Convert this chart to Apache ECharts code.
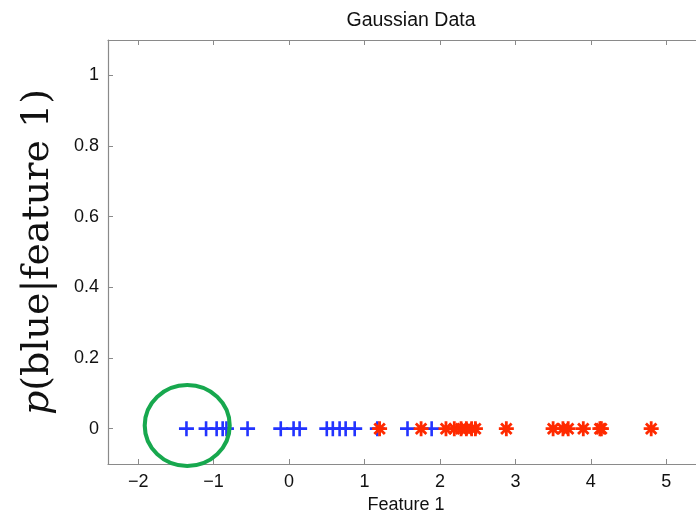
<!DOCTYPE html>
<html>
<head>
<meta charset="utf-8">
<script src="https://cdn.jsdelivr.net/npm/echarts@6/dist/echarts.min.js"></script>
<style>html,body{margin:0;padding:0;background:#fff;}#c{width:696px;height:513px;}</style>
</head>
<body>
<div id="c"></div>
<script>
const xTicks = [-2, -1, 0, 1, 2, 3, 4, 5];
const yTicks = [0, 0.2, 0.4, 0.6, 0.8, 1];
const blueX = [-1.36, -1.10, -0.96, -0.88, -0.83, -0.55, -0.11, 0.06, 0.14, 0.50, 0.58, 0.67, 0.75, 0.87, 1.17, 1.57, 1.89];
const redX = [1.20, 1.75, 2.08, 2.19, 2.28, 2.35, 2.42, 2.47, 2.88, 3.50, 3.63, 3.70, 3.90, 4.12, 4.14, 4.80];
const circleCenter = [-1.35, 0.009];

const axisColor = '#8a8a8a';
const plusPath = 'path://M0,5H10M5,0V10';
const starPath = 'path://M0,5H10M5,0V10M1.5,1.5L8.5,8.5M8.5,1.5L1.5,8.5';
const fmt = v => String(v).replace('-', '\u2212');

const chart = echarts.init(document.getElementById('c'), null, {renderer: 'canvas'});
chart.setOption({
  animation: false,
  backgroundColor: '#fff',
  title: {
    text: 'Gaussian Data', left: 406, top: 6, textAlign: 'center',
    textStyle: {fontFamily: 'Liberation Sans', fontSize: 19.5, fontWeight: 'normal', color: '#111'}
  },
  grid: {left: 108, top: 40, right: -8, bottom: 49, containLabel: false, outerBoundsMode: 'none'},
  xAxis: [{
    type: 'value', min: -2.4, max: 5.5,
    name: 'Feature 1', nameLocation: 'middle', nameGap: 29,
    nameTextStyle: {fontFamily: 'Liberation Sans', fontSize: 18, color: '#111'},
    axisLine: {show: true, onZero: false, lineStyle: {color: axisColor, width: 1.2}},
    axisTick: {show: true, inside: true, length: 5, customValues: xTicks, lineStyle: {color: axisColor}},
    axisLabel: {customValues: xTicks, formatter: fmt, margin: 9, fontFamily: 'Liberation Sans', fontSize: 18, color: '#111'},
    splitLine: {show: false}
  }, {
    type: 'value', min: -2.4, max: 5.5, position: 'top',
    axisLine: {show: true, onZero: false, lineStyle: {color: axisColor, width: 1.2}},
    axisTick: {show: true, inside: true, length: 5, customValues: xTicks, lineStyle: {color: axisColor}},
    axisLabel: {show: false},
    splitLine: {show: false}
  }],
  yAxis: [{
    type: 'value', min: -0.1, max: 1.1,
    name: '{i|p}(blue|feature 1)', nameLocation: 'middle', nameGap: 51, nameRotate: 90,
    nameTextStyle: {
      fontFamily: 'DejaVu Serif', fontSize: 38, color: '#111',
      rich: {i: {fontFamily: 'DejaVu Serif', fontStyle: 'italic', fontSize: 38, color: '#111'}}
    },
    axisLine: {show: true, onZero: false, lineStyle: {color: axisColor, width: 1.2}},
    axisTick: {show: true, inside: true, length: 5, customValues: yTicks, lineStyle: {color: axisColor}},
    axisLabel: {customValues: yTicks, margin: 9, fontFamily: 'Liberation Sans', fontSize: 18, color: '#111'},
    splitLine: {show: false}
  }],
  series: [{
    type: 'scatter', name: 'blue', symbol: plusPath, symbolSize: 15,
    data: blueX.map(x => [x, 0]),
    itemStyle: {color: 'transparent', borderColor: '#2233ff', borderWidth: 2.6, opacity: 1}
  }, {
    type: 'scatter', name: 'red', symbol: starPath, symbolSize: 15,
    data: redX.map(x => [x, 0]),
    itemStyle: {color: 'transparent', borderColor: '#ff2a00', borderWidth: 2.8, opacity: 1}
  }, {
    type: 'scatter', name: 'circle', symbol: 'circle', symbolSize: [85, 81],
    data: [circleCenter],
    itemStyle: {color: 'transparent', borderColor: '#17a84e', borderWidth: 4, opacity: 1}
  }]
});
</script>
</body>
</html>
